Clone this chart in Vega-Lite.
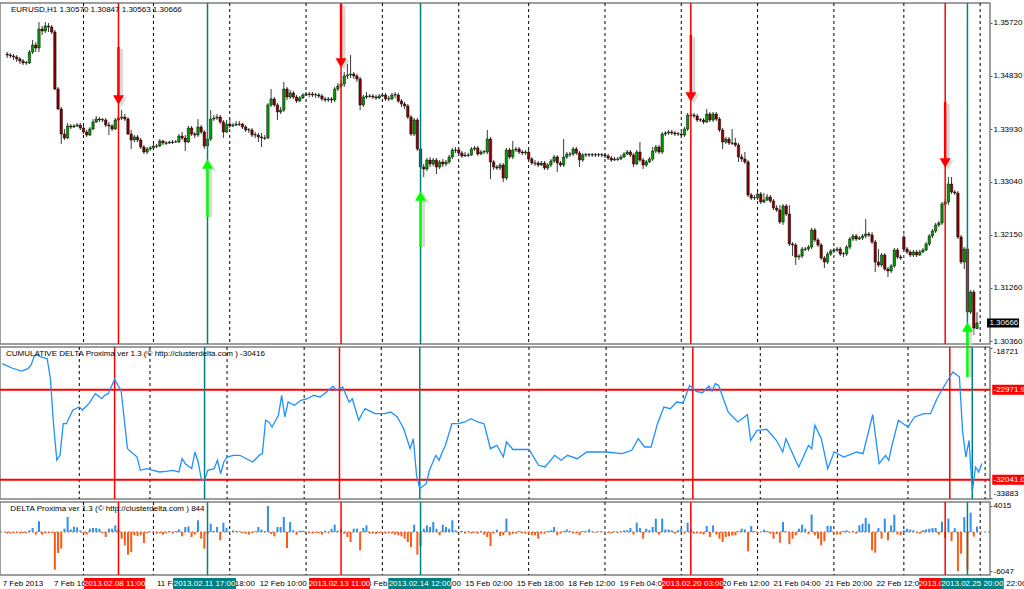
{
"$schema":"https://vega.github.io/schema/vega-lite/v6.json",
"padding":{"left":-2,"top":1,"right":0,"bottom":0},
"background":"white",
"spacing":3,
"bounds":"flush",
"config":{"font":"Liberation Sans","view":{"stroke":"#7f7f7f","strokeWidth":1.5},"text":{"font":"Liberation Sans","fontSize":8}},
"datasets":{
"days":[{"i":24},{"i":46},{"i":70},{"i":94},{"i":118},{"i":142},{"i":164},{"i":188},{"i":212},{"i":236},{"i":260},{"i":282},{"i":306}],
"events":[{"i":35,"k":"red","t":"2013.02.08 11:00"},{"i":63,"k":"teal","t":"2013.02.11 17:00"},{"i":105,"k":"red","t":"2013.02.13 11:00"},{"i":130,"k":"teal","t":"2013.02.14 12:00"},{"i":215,"k":"red","t":"2013.02.20 03:00"},{"i":295,"k":"red","t":"2013.02.25 13:00"},{"i":302,"k":"teal","t":"2013.02.25 20:00"}],
"arrows":[{"i":35,"a":1.35312,"b":1.34453,"hd":1.34420,"k":"down"},{"i":105,"a":1.36036,"b":1.35093,"hd":1.35043,"k":"down"},{"i":215,"a":1.35514,"b":1.34521,"hd":1.34470,"k":"down"},{"i":295,"a":1.34386,"b":1.33409,"hd":1.33359,"k":"down"},{"i":63,"a":1.33258,"b":1.32449,"hd":1.33342,"k":"up"},{"i":130,"a":1.32736,"b":1.31944,"hd":1.32803,"k":"up"},{"i":302,"a":1.30547,"b":1.29755,"hd":1.30597,"k":"up"}],
"levels":[{"v":-22971.9,"t":"-22971.9"},{"v":-32041.0,"t":"-32041.0"}],
"xlabels":[{"i":0,"t":"7 Feb 2013"},{"i":16,"t":"7 Feb 16:00"},{"i":48,"t":"11 Feb 02:00"},{"i":64,"t":"11 Feb 18:00"},{"i":80,"t":"12 Feb 10:00"},{"i":112,"t":"13 Feb 18:00"},{"i":128,"t":"14 Feb 10:00"},{"i":144,"t":"15 Feb 02:00"},{"i":160,"t":"15 Feb 18:00"},{"i":176,"t":"18 Feb 12:00"},{"i":192,"t":"19 Feb 04:00"},{"i":224,"t":"20 Feb 12:00"},{"i":240,"t":"21 Feb 04:00"},{"i":256,"t":"21 Feb 20:00"},{"i":272,"t":"22 Feb 12:00"},{"i":304,"t":"25 Feb 22:00"}],
"cd":[{"i":0,"v":-20352},{"i":3,"v":-20785},{"i":6,"v":-21088},{"i":8,"v":-20856},{"i":9,"v":-20483},{"i":10,"v":-19576},{"i":11,"v":-19475},{"i":12,"v":-19677},{"i":14,"v":-19848},{"i":15,"v":-21863},{"i":16,"v":-26529},{"i":17,"v":-30056},{"i":18,"v":-29552},{"i":19,"v":-26398},{"i":20,"v":-26398},{"i":22,"v":-25017},{"i":24,"v":-24715},{"i":25,"v":-25017},{"i":27,"v":-24383},{"i":29,"v":-23375},{"i":31,"v":-23879},{"i":32,"v":-23506},{"i":33,"v":-23375},{"i":35,"v":-21924},{"i":36,"v":-22528},{"i":37,"v":-23032},{"i":39,"v":-28917},{"i":42,"v":-29754},{"i":43,"v":-31094},{"i":45,"v":-30933},{"i":47,"v":-31094},{"i":49,"v":-31265},{"i":51,"v":-31195},{"i":53,"v":-31094},{"i":55,"v":-31265},{"i":56,"v":-29925},{"i":57,"v":-30429},{"i":59,"v":-30933},{"i":60,"v":-29250},{"i":61,"v":-30258},{"i":62,"v":-32001},{"i":63,"v":-32102},{"i":64,"v":-31094},{"i":66,"v":-30933},{"i":67,"v":-30086},{"i":68,"v":-31437},{"i":69,"v":-30258},{"i":70,"v":-29754},{"i":72,"v":-29582},{"i":74,"v":-29582},{"i":76,"v":-29925},{"i":78,"v":-30258},{"i":80,"v":-29582},{"i":81,"v":-29421},{"i":82,"v":-26056},{"i":83,"v":-26227},{"i":84,"v":-26731},{"i":86,"v":-25552},{"i":87,"v":-23536},{"i":88,"v":-25723},{"i":89,"v":-24211},{"i":91,"v":-24544},{"i":93,"v":-24040},{"i":95,"v":-23879},{"i":97,"v":-23536},{"i":99,"v":-23708},{"i":101,"v":-23204},{"i":103,"v":-22629},{"i":104,"v":-23032},{"i":106,"v":-22700},{"i":108,"v":-24211},{"i":109,"v":-23879},{"i":111,"v":-26056},{"i":112,"v":-25390},{"i":113,"v":-24887},{"i":116,"v":-25390},{"i":119,"v":-25390},{"i":121,"v":-25219},{"i":123,"v":-25723},{"i":125,"v":-26902},{"i":127,"v":-28917},{"i":128,"v":-27910},{"i":129,"v":-31598},{"i":130,"v":-32948},{"i":132,"v":-32444},{"i":133,"v":-31094},{"i":135,"v":-29582},{"i":136,"v":-30086},{"i":137,"v":-29250},{"i":138,"v":-28575},{"i":140,"v":-26398},{"i":142,"v":-26398},{"i":144,"v":-26227},{"i":146,"v":-25894},{"i":148,"v":-26227},{"i":150,"v":-26398},{"i":152,"v":-28917},{"i":154,"v":-28575},{"i":156,"v":-29754},{"i":157,"v":-28242},{"i":159,"v":-28998},{"i":164,"v":-28978},{"i":167,"v":-30590},{"i":169,"v":-30761},{"i":172,"v":-29582},{"i":174,"v":-30086},{"i":176,"v":-29582},{"i":179,"v":-29925},{"i":182,"v":-29250},{"i":188,"v":-29250},{"i":193,"v":-29421},{"i":196,"v":-29079},{"i":198,"v":-27910},{"i":200,"v":-28746},{"i":202,"v":-28746},{"i":204,"v":-26398},{"i":206,"v":-24715},{"i":208,"v":-24887},{"i":210,"v":-24211},{"i":212,"v":-24312},{"i":214,"v":-22528},{"i":216,"v":-23133},{"i":218,"v":-23274},{"i":220,"v":-22599},{"i":221,"v":-23133},{"i":222,"v":-22367},{"i":223,"v":-22528},{"i":226,"v":-25219},{"i":229,"v":-26227},{"i":232,"v":-25491},{"i":233,"v":-28071},{"i":235,"v":-27063},{"i":238,"v":-26962},{"i":241,"v":-28071},{"i":243,"v":-29250},{"i":244,"v":-27910},{"i":247,"v":-30086},{"i":248,"v":-30761},{"i":251,"v":-28575},{"i":252,"v":-28917},{"i":253,"v":-26559},{"i":255,"v":-27910},{"i":257,"v":-30933},{"i":259,"v":-29250},{"i":262,"v":-29754},{"i":266,"v":-29250},{"i":268,"v":-29421},{"i":271,"v":-25491},{"i":273,"v":-30429},{"i":275,"v":-29582},{"i":276,"v":-30086},{"i":277,"v":-28575},{"i":279,"v":-26056},{"i":282,"v":-26731},{"i":284,"v":-25723},{"i":287,"v":-25390},{"i":289,"v":-25390},{"i":291,"v":-23879},{"i":294,"v":-22196},{"i":295,"v":-21692},{"i":296,"v":-21188},{"i":298,"v":-21692},{"i":299,"v":-27234},{"i":300,"v":-29754},{"i":301,"v":-28071},{"i":302,"v":-33281},{"i":303,"v":-30761},{"i":304,"v":-31265},{"i":305,"v":-30416}],
"bars":[
{"i":0,"o":1.35194,"h":1.35228,"l":1.35127,"c":1.35177,"d":-250},
{"i":1,"o":1.35177,"h":1.35211,"l":1.35127,"c":1.35161,"d":-230},
{"i":2,"o":1.35161,"h":1.35194,"l":1.35093,"c":1.35144,"d":-200},
{"i":3,"o":1.35144,"h":1.35177,"l":1.35060,"c":1.35110,"d":-150},
{"i":4,"o":1.35110,"h":1.35144,"l":1.35026,"c":1.35076,"d":-220},
{"i":5,"o":1.35076,"h":1.35110,"l":1.35009,"c":1.35043,"d":-150},
{"i":6,"o":1.35043,"h":1.35076,"l":1.35009,"c":1.35050,"d":-200},
{"i":7,"o":1.35043,"h":1.35262,"l":1.35026,"c":1.35228,"d":260},
{"i":8,"o":1.35228,"h":1.35430,"l":1.35194,"c":1.35346,"d":620},
{"i":9,"o":1.35346,"h":1.35396,"l":1.35228,"c":1.35295,"d":-400},
{"i":10,"o":1.35295,"h":1.35733,"l":1.35228,"c":1.35615,"d":1650},
{"i":11,"o":1.35615,"h":1.35666,"l":1.35514,"c":1.35582,"d":-400},
{"i":12,"o":1.35582,"h":1.35733,"l":1.35548,"c":1.35666,"d":-200},
{"i":13,"o":1.35666,"h":1.35716,"l":1.35565,"c":1.35649,"d":-180},
{"i":14,"o":1.35649,"h":1.35683,"l":1.35531,"c":1.35565,"d":-150},
{"i":15,"o":1.35565,"h":1.35598,"l":1.34588,"c":1.34605,"d":-5820},
{"i":16,"o":1.34605,"h":1.34639,"l":1.34251,"c":1.34268,"d":-3240},
{"i":17,"o":1.34268,"h":1.34302,"l":1.33679,"c":1.33847,"d":-2570},
{"i":18,"o":1.33847,"h":1.33931,"l":1.33746,"c":1.33780,"d":515},
{"i":19,"o":1.33780,"h":1.34032,"l":1.33763,"c":1.33982,"d":2316},
{"i":20,"o":1.33982,"h":1.34015,"l":1.33931,"c":1.33965,"d":400},
{"i":21,"o":1.33965,"h":1.34015,"l":1.33948,"c":1.33982,"d":820},
{"i":22,"o":1.33982,"h":1.34032,"l":1.33965,"c":1.33998,"d":720},
{"i":23,"o":1.33998,"h":1.34032,"l":1.33914,"c":1.33948,"d":250},
{"i":24,"o":1.33948,"h":1.33982,"l":1.33847,"c":1.33881,"d":-250},
{"i":25,"o":1.33881,"h":1.33914,"l":1.33796,"c":1.33830,"d":-400},
{"i":26,"o":1.33830,"h":1.33965,"l":1.33813,"c":1.33931,"d":515},
{"i":27,"o":1.33931,"h":1.34099,"l":1.33914,"c":1.34049,"d":620},
{"i":28,"o":1.34049,"h":1.34150,"l":1.34032,"c":1.34099,"d":620},
{"i":29,"o":1.34099,"h":1.34133,"l":1.34049,"c":1.34083,"d":515},
{"i":30,"o":1.34083,"h":1.34116,"l":1.34049,"c":1.34090,"d":-200},
{"i":31,"o":1.34083,"h":1.34116,"l":1.33965,"c":1.33998,"d":-770},
{"i":32,"o":1.33998,"h":1.34049,"l":1.33830,"c":1.33982,"d":515},
{"i":33,"o":1.33982,"h":1.34015,"l":1.33897,"c":1.33931,"d":515},
{"i":34,"o":1.33931,"h":1.34116,"l":1.33914,"c":1.34083,"d":1030},
{"i":35,"o":1.34083,"h":1.34167,"l":1.34049,"c":1.34116,"d":400},
{"i":36,"o":1.34116,"h":1.34251,"l":1.34083,"c":1.34133,"d":-1030},
{"i":37,"o":1.34133,"h":1.34184,"l":1.34066,"c":1.34099,"d":-2060},
{"i":38,"o":1.34099,"h":1.34133,"l":1.33830,"c":1.33847,"d":-3500},
{"i":39,"o":1.33847,"h":1.33914,"l":1.33595,"c":1.33746,"d":-3090},
{"i":40,"o":1.33746,"h":1.33830,"l":1.33712,"c":1.33797,"d":-510},
{"i":41,"o":1.33797,"h":1.33830,"l":1.33712,"c":1.33746,"d":-620},
{"i":42,"o":1.33746,"h":1.33780,"l":1.33595,"c":1.33628,"d":-510},
{"i":43,"o":1.33628,"h":1.33662,"l":1.33510,"c":1.33544,"d":-1700},
{"i":44,"o":1.33544,"h":1.33628,"l":1.33510,"c":1.33595,"d":-150},
{"i":45,"o":1.33595,"h":1.33645,"l":1.33561,"c":1.33612,"d":100},
{"i":46,"o":1.33612,"h":1.33679,"l":1.33595,"c":1.33645,"d":80},
{"i":47,"o":1.33645,"h":1.33679,"l":1.33612,"c":1.33640,"d":-250},
{"i":48,"o":1.33645,"h":1.33763,"l":1.33628,"c":1.33729,"d":-200},
{"i":49,"o":1.33729,"h":1.33746,"l":1.33662,"c":1.33696,"d":-400},
{"i":50,"o":1.33696,"h":1.33729,"l":1.33662,"c":1.33690,"d":-200},
{"i":51,"o":1.33696,"h":1.33729,"l":1.33679,"c":1.33712,"d":150},
{"i":52,"o":1.33712,"h":1.33746,"l":1.33679,"c":1.33705,"d":-250},
{"i":53,"o":1.33712,"h":1.33746,"l":1.33696,"c":1.33715,"d":150},
{"i":54,"o":1.33712,"h":1.33847,"l":1.33696,"c":1.33813,"d":400},
{"i":55,"o":1.33813,"h":1.33881,"l":1.33746,"c":1.33780,"d":-670},
{"i":56,"o":1.33780,"h":1.33830,"l":1.33561,"c":1.33712,"d":770},
{"i":57,"o":1.33712,"h":1.33982,"l":1.33696,"c":1.33948,"d":870},
{"i":58,"o":1.33948,"h":1.33982,"l":1.33813,"c":1.33847,"d":-770},
{"i":59,"o":1.33847,"h":1.33881,"l":1.33780,"c":1.33830,"d":-400},
{"i":60,"o":1.33830,"h":1.34099,"l":1.33797,"c":1.33965,"d":1800},
{"i":61,"o":1.33965,"h":1.33998,"l":1.33847,"c":1.33881,"d":-1030},
{"i":62,"o":1.33881,"h":1.33914,"l":1.33595,"c":1.33645,"d":-2570},
{"i":63,"o":1.33645,"h":1.33797,"l":1.33595,"c":1.33763,"d":-300},
{"i":64,"o":1.33763,"h":1.34251,"l":1.33729,"c":1.34099,"d":1290},
{"i":65,"o":1.34099,"h":1.34167,"l":1.34066,"c":1.34116,"d":150},
{"i":66,"o":1.34116,"h":1.34184,"l":1.34083,"c":1.34133,"d":770},
{"i":67,"o":1.34133,"h":1.34167,"l":1.34015,"c":1.34049,"d":-1290},
{"i":68,"o":1.34049,"h":1.34083,"l":1.33780,"c":1.33881,"d":1440},
{"i":69,"o":1.33881,"h":1.34083,"l":1.33864,"c":1.34015,"d":620},
{"i":70,"o":1.34015,"h":1.34099,"l":1.33948,"c":1.33982,"d":60},
{"i":71,"o":1.33982,"h":1.34032,"l":1.33965,"c":1.33998,"d":250},
{"i":72,"o":1.33998,"h":1.34066,"l":1.33982,"c":1.34015,"d":150},
{"i":73,"o":1.34015,"h":1.34066,"l":1.33982,"c":1.34010,"d":100},
{"i":74,"o":1.34015,"h":1.34032,"l":1.33931,"c":1.33965,"d":-200},
{"i":75,"o":1.33965,"h":1.33998,"l":1.33881,"c":1.33914,"d":-250},
{"i":76,"o":1.33914,"h":1.33948,"l":1.33864,"c":1.33920,"d":-400},
{"i":77,"o":1.33914,"h":1.33948,"l":1.33797,"c":1.33830,"d":-200},
{"i":78,"o":1.33830,"h":1.33881,"l":1.33780,"c":1.33836,"d":100},
{"i":79,"o":1.33830,"h":1.33864,"l":1.33712,"c":1.33797,"d":770},
{"i":80,"o":1.33797,"h":1.33864,"l":1.33628,"c":1.33780,"d":360},
{"i":81,"o":1.33780,"h":1.33830,"l":1.33746,"c":1.33775,"d":150},
{"i":82,"o":1.33780,"h":1.34369,"l":1.33763,"c":1.34336,"d":4015},
{"i":83,"o":1.34336,"h":1.34605,"l":1.34302,"c":1.34437,"d":-300},
{"i":84,"o":1.34437,"h":1.34470,"l":1.34302,"c":1.34336,"d":-670},
{"i":85,"o":1.34336,"h":1.34369,"l":1.34083,"c":1.34218,"d":770},
{"i":86,"o":1.34218,"h":1.34302,"l":1.34184,"c":1.34251,"d":770},
{"i":87,"o":1.34251,"h":1.34723,"l":1.34218,"c":1.34605,"d":2316},
{"i":88,"o":1.34605,"h":1.34639,"l":1.34420,"c":1.34470,"d":-2470},
{"i":89,"o":1.34470,"h":1.34588,"l":1.34437,"c":1.34538,"d":1544},
{"i":90,"o":1.34538,"h":1.34571,"l":1.34437,"c":1.34470,"d":260},
{"i":91,"o":1.34470,"h":1.34504,"l":1.34369,"c":1.34403,"d":-410},
{"i":92,"o":1.34403,"h":1.34487,"l":1.34386,"c":1.34454,"d":200},
{"i":93,"o":1.34454,"h":1.34538,"l":1.34437,"c":1.34504,"d":200},
{"i":94,"o":1.34504,"h":1.34554,"l":1.34487,"c":1.34521,"d":60},
{"i":95,"o":1.34521,"h":1.34554,"l":1.34470,"c":1.34515,"d":-200},
{"i":96,"o":1.34521,"h":1.34554,"l":1.34470,"c":1.34504,"d":-250},
{"i":97,"o":1.34504,"h":1.34538,"l":1.34454,"c":1.34510,"d":-150},
{"i":98,"o":1.34504,"h":1.34538,"l":1.34454,"c":1.34487,"d":-200},
{"i":99,"o":1.34487,"h":1.34521,"l":1.34403,"c":1.34437,"d":-400},
{"i":100,"o":1.34437,"h":1.34470,"l":1.34386,"c":1.34420,"d":200},
{"i":101,"o":1.34420,"h":1.34470,"l":1.34386,"c":1.34437,"d":-150},
{"i":102,"o":1.34437,"h":1.34470,"l":1.34369,"c":1.34420,"d":510},
{"i":103,"o":1.34420,"h":1.34639,"l":1.34386,"c":1.34605,"d":1130},
{"i":104,"o":1.34605,"h":1.34706,"l":1.34571,"c":1.34656,"d":200},
{"i":105,"o":1.34656,"h":1.34740,"l":1.34622,"c":1.34689,"d":510},
{"i":106,"o":1.34689,"h":1.34891,"l":1.34639,"c":1.34824,"d":-250},
{"i":107,"o":1.34824,"h":1.35026,"l":1.34774,"c":1.34841,"d":-770},
{"i":108,"o":1.34841,"h":1.35177,"l":1.34790,"c":1.34858,"d":-1544},
{"i":109,"o":1.34858,"h":1.34891,"l":1.34774,"c":1.34824,"d":510},
{"i":110,"o":1.34824,"h":1.34858,"l":1.34723,"c":1.34774,"d":510},
{"i":111,"o":1.34774,"h":1.34807,"l":1.34251,"c":1.34336,"d":-2830},
{"i":112,"o":1.34336,"h":1.34504,"l":1.34302,"c":1.34470,"d":620},
{"i":113,"o":1.34470,"h":1.34554,"l":1.34437,"c":1.34487,"d":1030},
{"i":114,"o":1.34487,"h":1.34521,"l":1.34454,"c":1.34482,"d":-250},
{"i":115,"o":1.34487,"h":1.34521,"l":1.34437,"c":1.34470,"d":-250},
{"i":116,"o":1.34470,"h":1.34504,"l":1.34420,"c":1.34454,"d":-300},
{"i":117,"o":1.34454,"h":1.34521,"l":1.34437,"c":1.34487,"d":-200},
{"i":118,"o":1.34487,"h":1.34538,"l":1.34470,"c":1.34504,"d":-150},
{"i":119,"o":1.34504,"h":1.34538,"l":1.34403,"c":1.34437,"d":-250},
{"i":120,"o":1.34437,"h":1.34487,"l":1.34403,"c":1.34442,"d":-200},
{"i":121,"o":1.34437,"h":1.34538,"l":1.34420,"c":1.34504,"d":-250},
{"i":122,"o":1.34504,"h":1.34554,"l":1.34454,"c":1.34510,"d":-400},
{"i":123,"o":1.34504,"h":1.34538,"l":1.34369,"c":1.34403,"d":-510},
{"i":124,"o":1.34403,"h":1.34437,"l":1.34302,"c":1.34352,"d":-670},
{"i":125,"o":1.34352,"h":1.34386,"l":1.34268,"c":1.34319,"d":-1030},
{"i":126,"o":1.34319,"h":1.34352,"l":1.34099,"c":1.34133,"d":-1544},
{"i":127,"o":1.34133,"h":1.34167,"l":1.33813,"c":1.33847,"d":-2316},
{"i":128,"o":1.33847,"h":1.34116,"l":1.33813,"c":1.34083,"d":1130},
{"i":129,"o":1.34083,"h":1.34116,"l":1.33561,"c":1.33595,"d":-3500},
{"i":130,"o":1.33595,"h":1.33628,"l":1.33257,"c":1.33291,"d":-2160},
{"i":131,"o":1.33291,"h":1.33342,"l":1.33123,"c":1.33258,"d":510},
{"i":132,"o":1.33258,"h":1.33443,"l":1.33224,"c":1.33409,"d":1030},
{"i":133,"o":1.33409,"h":1.33460,"l":1.33291,"c":1.33342,"d":770},
{"i":134,"o":1.33342,"h":1.33443,"l":1.33308,"c":1.33409,"d":1544},
{"i":135,"o":1.33409,"h":1.33443,"l":1.33173,"c":1.33291,"d":510},
{"i":136,"o":1.33291,"h":1.33409,"l":1.33258,"c":1.33376,"d":-510},
{"i":137,"o":1.33376,"h":1.33426,"l":1.33291,"c":1.33342,"d":1130},
{"i":138,"o":1.33342,"h":1.33409,"l":1.33308,"c":1.33376,"d":770},
{"i":139,"o":1.33376,"h":1.33494,"l":1.33342,"c":1.33460,"d":510},
{"i":140,"o":1.33460,"h":1.33612,"l":1.33426,"c":1.33578,"d":1800},
{"i":141,"o":1.33578,"h":1.33628,"l":1.33527,"c":1.33572,"d":260},
{"i":142,"o":1.33578,"h":1.33612,"l":1.33477,"c":1.33527,"d":50},
{"i":143,"o":1.33527,"h":1.33561,"l":1.33443,"c":1.33477,"d":200},
{"i":144,"o":1.33477,"h":1.33544,"l":1.33460,"c":1.33494,"d":-250},
{"i":145,"o":1.33494,"h":1.33527,"l":1.33460,"c":1.33488,"d":150},
{"i":146,"o":1.33494,"h":1.33628,"l":1.33477,"c":1.33595,"d":-250},
{"i":147,"o":1.33595,"h":1.33645,"l":1.33561,"c":1.33612,"d":-150},
{"i":148,"o":1.33612,"h":1.33645,"l":1.33477,"c":1.33510,"d":-250},
{"i":149,"o":1.33510,"h":1.33578,"l":1.33494,"c":1.33544,"d":150},
{"i":150,"o":1.33544,"h":1.33578,"l":1.33510,"c":1.33550,"d":-400},
{"i":151,"o":1.33544,"h":1.33914,"l":1.33510,"c":1.33763,"d":-770},
{"i":152,"o":1.33763,"h":1.33797,"l":1.33089,"c":1.33376,"d":-2160},
{"i":153,"o":1.33376,"h":1.33409,"l":1.33241,"c":1.33291,"d":-250},
{"i":154,"o":1.33291,"h":1.33325,"l":1.33241,"c":1.33274,"d":360},
{"i":155,"o":1.33274,"h":1.33359,"l":1.33241,"c":1.33325,"d":-620},
{"i":156,"o":1.33325,"h":1.33359,"l":1.33039,"c":1.33106,"d":-510},
{"i":157,"o":1.33106,"h":1.33612,"l":1.33072,"c":1.33578,"d":2060},
{"i":158,"o":1.33578,"h":1.33612,"l":1.33426,"c":1.33460,"d":-510},
{"i":159,"o":1.33460,"h":1.33729,"l":1.33426,"c":1.33578,"d":-300},
{"i":160,"o":1.33578,"h":1.33628,"l":1.33544,"c":1.33595,"d":-250},
{"i":161,"o":1.33595,"h":1.33628,"l":1.33510,"c":1.33544,"d":150},
{"i":162,"o":1.33544,"h":1.33578,"l":1.33494,"c":1.33527,"d":-200},
{"i":163,"o":1.33527,"h":1.33578,"l":1.33494,"c":1.33544,"d":-250},
{"i":164,"o":1.33544,"h":1.33578,"l":1.33393,"c":1.33426,"d":-300},
{"i":165,"o":1.33426,"h":1.33460,"l":1.33325,"c":1.33359,"d":-510},
{"i":166,"o":1.33359,"h":1.33409,"l":1.33308,"c":1.33353,"d":-510},
{"i":167,"o":1.33359,"h":1.33393,"l":1.33291,"c":1.33325,"d":-1030},
{"i":168,"o":1.33325,"h":1.33393,"l":1.33308,"c":1.33359,"d":-250},
{"i":169,"o":1.33359,"h":1.33393,"l":1.33241,"c":1.33274,"d":-250},
{"i":170,"o":1.33274,"h":1.33359,"l":1.33241,"c":1.33325,"d":150},
{"i":171,"o":1.33325,"h":1.33426,"l":1.33291,"c":1.33393,"d":260},
{"i":172,"o":1.33393,"h":1.33494,"l":1.33359,"c":1.33460,"d":770},
{"i":173,"o":1.33460,"h":1.33494,"l":1.33207,"c":1.33359,"d":-510},
{"i":174,"o":1.33359,"h":1.33393,"l":1.33291,"c":1.33325,"d":-250},
{"i":175,"o":1.33325,"h":1.33763,"l":1.33291,"c":1.33460,"d":150},
{"i":176,"o":1.33460,"h":1.33544,"l":1.33426,"c":1.33510,"d":400},
{"i":177,"o":1.33510,"h":1.33544,"l":1.33460,"c":1.33504,"d":150},
{"i":178,"o":1.33510,"h":1.33628,"l":1.33477,"c":1.33595,"d":-250},
{"i":179,"o":1.33595,"h":1.33628,"l":1.33494,"c":1.33527,"d":-250},
{"i":180,"o":1.33527,"h":1.33561,"l":1.33291,"c":1.33409,"d":-510},
{"i":181,"o":1.33409,"h":1.33527,"l":1.33376,"c":1.33494,"d":150},
{"i":182,"o":1.33494,"h":1.33527,"l":1.33460,"c":1.33500,"d":150},
{"i":183,"o":1.33500,"h":1.33527,"l":1.33460,"c":1.33494,"d":400},
{"i":184,"o":1.33494,"h":1.33527,"l":1.33460,"c":1.33500,"d":100},
{"i":185,"o":1.33500,"h":1.33527,"l":1.33460,"c":1.33494,"d":-100},
{"i":186,"o":1.33494,"h":1.33527,"l":1.33460,"c":1.33500,"d":80},
{"i":187,"o":1.33500,"h":1.33527,"l":1.33460,"c":1.33494,"d":100},
{"i":188,"o":1.33494,"h":1.33527,"l":1.33443,"c":1.33477,"d":-100},
{"i":189,"o":1.33477,"h":1.33510,"l":1.33409,"c":1.33443,"d":-150},
{"i":190,"o":1.33443,"h":1.33477,"l":1.33376,"c":1.33409,"d":-200},
{"i":191,"o":1.33409,"h":1.33460,"l":1.33393,"c":1.33426,"d":100},
{"i":192,"o":1.33426,"h":1.33460,"l":1.33393,"c":1.33420,"d":-150},
{"i":193,"o":1.33426,"h":1.33494,"l":1.33409,"c":1.33460,"d":150},
{"i":194,"o":1.33460,"h":1.33544,"l":1.33443,"c":1.33510,"d":260},
{"i":195,"o":1.33510,"h":1.33578,"l":1.33494,"c":1.33544,"d":260},
{"i":196,"o":1.33544,"h":1.33578,"l":1.33460,"c":1.33494,"d":620},
{"i":197,"o":1.33494,"h":1.33527,"l":1.33291,"c":1.33342,"d":-400},
{"i":198,"o":1.33342,"h":1.33578,"l":1.33325,"c":1.33544,"d":1440},
{"i":199,"o":1.33544,"h":1.33712,"l":1.33376,"c":1.33409,"d":620},
{"i":200,"o":1.33409,"h":1.33443,"l":1.33257,"c":1.33325,"d":-1030},
{"i":201,"o":1.33325,"h":1.33409,"l":1.33291,"c":1.33376,"d":510},
{"i":202,"o":1.33376,"h":1.33460,"l":1.33359,"c":1.33426,"d":260},
{"i":203,"o":1.33426,"h":1.33628,"l":1.33393,"c":1.33561,"d":770},
{"i":204,"o":1.33561,"h":1.33662,"l":1.33527,"c":1.33628,"d":2060},
{"i":205,"o":1.33628,"h":1.33662,"l":1.33510,"c":1.33544,"d":-400},
{"i":206,"o":1.33544,"h":1.33881,"l":1.33510,"c":1.33847,"d":2060},
{"i":207,"o":1.33847,"h":1.33897,"l":1.33813,"c":1.33864,"d":400},
{"i":208,"o":1.33864,"h":1.33914,"l":1.33830,"c":1.33881,"d":400},
{"i":209,"o":1.33881,"h":1.33914,"l":1.33830,"c":1.33864,"d":260},
{"i":210,"o":1.33864,"h":1.33897,"l":1.33813,"c":1.33847,"d":-250},
{"i":211,"o":1.33847,"h":1.33881,"l":1.33813,"c":1.33853,"d":260},
{"i":212,"o":1.33847,"h":1.33881,"l":1.33797,"c":1.33830,"d":620},
{"i":213,"o":1.33830,"h":1.33965,"l":1.33797,"c":1.33931,"d":-250},
{"i":214,"o":1.33931,"h":1.34201,"l":1.33897,"c":1.34167,"d":1440},
{"i":215,"o":1.34167,"h":1.34201,"l":1.34133,"c":1.34162,"d":500},
{"i":216,"o":1.34167,"h":1.34201,"l":1.34116,"c":1.34150,"d":-250},
{"i":217,"o":1.34150,"h":1.34184,"l":1.34049,"c":1.34083,"d":-250},
{"i":218,"o":1.34083,"h":1.34116,"l":1.34049,"c":1.34088,"d":-250},
{"i":219,"o":1.34083,"h":1.34116,"l":1.34015,"c":1.34049,"d":-400},
{"i":220,"o":1.34049,"h":1.34268,"l":1.34032,"c":1.34184,"d":930},
{"i":221,"o":1.34184,"h":1.34218,"l":1.34049,"c":1.34083,"d":-770},
{"i":222,"o":1.34083,"h":1.34218,"l":1.34049,"c":1.34184,"d":1030},
{"i":223,"o":1.34184,"h":1.34218,"l":1.34066,"c":1.34099,"d":-400},
{"i":224,"o":1.34099,"h":1.34133,"l":1.33881,"c":1.33914,"d":-1030},
{"i":225,"o":1.33914,"h":1.33948,"l":1.33595,"c":1.33712,"d":-1540},
{"i":226,"o":1.33712,"h":1.33797,"l":1.33679,"c":1.33763,"d":-770},
{"i":227,"o":1.33763,"h":1.33797,"l":1.33662,"c":1.33696,"d":-670},
{"i":228,"o":1.33696,"h":1.33931,"l":1.33662,"c":1.33690,"d":-510},
{"i":229,"o":1.33696,"h":1.33780,"l":1.33628,"c":1.33662,"d":-510},
{"i":230,"o":1.33662,"h":1.33696,"l":1.33376,"c":1.33460,"d":150},
{"i":231,"o":1.33460,"h":1.33510,"l":1.33376,"c":1.33426,"d":510},
{"i":232,"o":1.33426,"h":1.33544,"l":1.33342,"c":1.33376,"d":400},
{"i":233,"o":1.33376,"h":1.33409,"l":1.32786,"c":1.32820,"d":-2980},
{"i":234,"o":1.32820,"h":1.32853,"l":1.32736,"c":1.32769,"d":930},
{"i":235,"o":1.32769,"h":1.32820,"l":1.32736,"c":1.32775,"d":150},
{"i":236,"o":1.32769,"h":1.32870,"l":1.32736,"c":1.32837,"d":-250},
{"i":237,"o":1.32837,"h":1.32870,"l":1.32668,"c":1.32702,"d":50},
{"i":238,"o":1.32702,"h":1.32853,"l":1.32685,"c":1.32736,"d":360},
{"i":239,"o":1.32736,"h":1.32837,"l":1.32719,"c":1.32786,"d":150},
{"i":240,"o":1.32786,"h":1.32820,"l":1.32685,"c":1.32719,"d":-250},
{"i":241,"o":1.32719,"h":1.32752,"l":1.32567,"c":1.32601,"d":-1030},
{"i":242,"o":1.32601,"h":1.32651,"l":1.32534,"c":1.32567,"d":-330},
{"i":243,"o":1.32567,"h":1.32651,"l":1.32332,"c":1.32365,"d":-1650},
{"i":244,"o":1.32365,"h":1.32668,"l":1.32315,"c":1.32635,"d":1544},
{"i":245,"o":1.32635,"h":1.32668,"l":1.32466,"c":1.32500,"d":100},
{"i":246,"o":1.32500,"h":1.32651,"l":1.31961,"c":1.31995,"d":-1900},
{"i":247,"o":1.31995,"h":1.32028,"l":1.31793,"c":1.31978,"d":-1030},
{"i":248,"o":1.31978,"h":1.32012,"l":1.31641,"c":1.31776,"d":-510},
{"i":249,"o":1.31776,"h":1.31827,"l":1.31726,"c":1.31793,"d":510},
{"i":250,"o":1.31793,"h":1.31944,"l":1.31759,"c":1.31911,"d":1130},
{"i":251,"o":1.31911,"h":1.31944,"l":1.31877,"c":1.31905,"d":510},
{"i":252,"o":1.31911,"h":1.31978,"l":1.31877,"c":1.31944,"d":-330},
{"i":253,"o":1.31944,"h":1.32264,"l":1.31911,"c":1.32231,"d":2680},
{"i":254,"o":1.32231,"h":1.32264,"l":1.32028,"c":1.32062,"d":-510},
{"i":255,"o":1.32062,"h":1.32096,"l":1.31944,"c":1.31978,"d":-1030},
{"i":256,"o":1.31978,"h":1.32012,"l":1.31726,"c":1.31759,"d":-2060},
{"i":257,"o":1.31759,"h":1.31793,"l":1.31591,"c":1.31692,"d":-1440},
{"i":258,"o":1.31692,"h":1.31860,"l":1.31658,"c":1.31827,"d":930},
{"i":259,"o":1.31827,"h":1.31911,"l":1.31793,"c":1.31877,"d":930},
{"i":260,"o":1.31877,"h":1.31928,"l":1.31843,"c":1.31894,"d":-250},
{"i":261,"o":1.31894,"h":1.31944,"l":1.31860,"c":1.31911,"d":-400},
{"i":262,"o":1.31911,"h":1.31944,"l":1.31793,"c":1.31827,"d":-400},
{"i":263,"o":1.31827,"h":1.31860,"l":1.31776,"c":1.31833,"d":150},
{"i":264,"o":1.31827,"h":1.31978,"l":1.31793,"c":1.31944,"d":260},
{"i":265,"o":1.31944,"h":1.32113,"l":1.31911,"c":1.32079,"d":-100},
{"i":266,"o":1.32079,"h":1.32163,"l":1.32045,"c":1.32130,"d":150},
{"i":267,"o":1.32130,"h":1.32163,"l":1.32045,"c":1.32079,"d":-250},
{"i":268,"o":1.32079,"h":1.32130,"l":1.32062,"c":1.32096,"d":1030},
{"i":269,"o":1.32096,"h":1.32163,"l":1.32062,"c":1.32130,"d":1290},
{"i":270,"o":1.32130,"h":1.32416,"l":1.32096,"c":1.32163,"d":2160},
{"i":271,"o":1.32163,"h":1.32197,"l":1.32113,"c":1.32146,"d":1290},
{"i":272,"o":1.32146,"h":1.32197,"l":1.31995,"c":1.32028,"d":-2830},
{"i":273,"o":1.32028,"h":1.32062,"l":1.31523,"c":1.31692,"d":-3190},
{"i":274,"o":1.31692,"h":1.31911,"l":1.31608,"c":1.31641,"d":620},
{"i":275,"o":1.31641,"h":1.31843,"l":1.31608,"c":1.31810,"d":-1030},
{"i":276,"o":1.31810,"h":1.31843,"l":1.31540,"c":1.31574,"d":2060},
{"i":277,"o":1.31574,"h":1.31608,"l":1.31439,"c":1.31540,"d":-1290},
{"i":278,"o":1.31540,"h":1.31658,"l":1.31507,"c":1.31624,"d":1030},
{"i":279,"o":1.31624,"h":1.31928,"l":1.31591,"c":1.31894,"d":2680},
{"i":280,"o":1.31894,"h":1.31928,"l":1.31742,"c":1.31776,"d":-400},
{"i":281,"o":1.31776,"h":1.31810,"l":1.31726,"c":1.31759,"d":-510},
{"i":282,"o":1.32113,"h":1.32146,"l":1.31877,"c":1.31911,"d":300},
{"i":283,"o":1.31911,"h":1.31944,"l":1.31827,"c":1.31860,"d":510},
{"i":284,"o":1.31860,"h":1.31894,"l":1.31776,"c":1.31810,"d":400},
{"i":285,"o":1.31810,"h":1.31894,"l":1.31776,"c":1.31860,"d":260},
{"i":286,"o":1.31860,"h":1.31894,"l":1.31776,"c":1.31810,"d":-150},
{"i":287,"o":1.31810,"h":1.31894,"l":1.31793,"c":1.31860,"d":-250},
{"i":288,"o":1.31860,"h":1.31928,"l":1.31843,"c":1.31894,"d":260},
{"i":289,"o":1.31894,"h":1.32028,"l":1.31877,"c":1.31995,"d":400},
{"i":290,"o":1.31995,"h":1.32163,"l":1.31961,"c":1.32130,"d":510},
{"i":291,"o":1.32130,"h":1.32247,"l":1.32096,"c":1.32214,"d":620},
{"i":292,"o":1.32214,"h":1.32349,"l":1.32180,"c":1.32315,"d":620},
{"i":293,"o":1.32315,"h":1.32382,"l":1.32281,"c":1.32349,"d":-400},
{"i":294,"o":1.32349,"h":1.32702,"l":1.32315,"c":1.32668,"d":1600},
{"i":295,"o":1.32668,"h":1.32752,"l":1.32635,"c":1.32702,"d":-900},
{"i":296,"o":1.32702,"h":1.33123,"l":1.32651,"c":1.33005,"d":2060},
{"i":297,"o":1.33005,"h":1.33123,"l":1.32837,"c":1.32870,"d":-1400},
{"i":298,"o":1.32870,"h":1.32904,"l":1.32820,"c":1.32853,"d":600},
{"i":299,"o":1.32853,"h":1.32887,"l":1.32079,"c":1.32113,"d":-6047},
{"i":300,"o":1.32113,"h":1.32146,"l":1.31658,"c":1.31692,"d":-3350},
{"i":301,"o":1.31692,"h":1.31944,"l":1.31574,"c":1.31911,"d":2300},
{"i":302,"o":1.31911,"h":1.31944,"l":1.30816,"c":1.30850,"d":-5900},
{"i":303,"o":1.30850,"h":1.31220,"l":1.30816,"c":1.31186,"d":3000},
{"i":304,"o":1.31186,"h":1.31220,"l":1.30462,"c":1.30580,"d":-700},
{"i":305,"o":1.30570,"h":1.30847,"l":1.30563,"c":1.30666,"d":844}
]},
"vconcat":[
{"width":990,"height":341,
"layer":[
{"data":{"name":"days"},"mark":{"type":"rule","color":"#000","strokeWidth":1,"strokeDash":[3,3]},
 "encoding":{"x":{"field":"i","type":"quantitative","scale":{"domain":[-0.685,307.52],"nice":false,"zero":false},"axis":null}}},
{"data":{"name":"bars"},"mark":{"type":"rule","color":"#3a3a3a","strokeWidth":1},
 "encoding":{"x":{"field":"i","type":"quantitative"},
  "y":{"field":"l","type":"quantitative","scale":{"domain":[1.30311,1.36053],"nice":false,"zero":false},
   "axis":{"orient":"right","values":[1.3036,1.3081,1.3126,1.317,1.3215,1.3259,1.3304,1.3349,1.3393,1.3438,1.3483,1.3527,1.3572],"format":".5f","title":null,"grid":false,"domain":false,"tickSize":2,"tickColor":"#555","labelPadding":1,"labelFontSize":8,"labelColor":"#000","labelFont":"Liberation Sans"}},
  "y2":{"field":"h"}}},
{"data":{"name":"bars"},"mark":{"type":"bar","width":2.4,"stroke":"#000","strokeWidth":0.5},
 "encoding":{"x":{"field":"i","type":"quantitative"},"y":{"field":"o","type":"quantitative"},"y2":{"field":"c"},
  "fill":{"condition":{"test":"datum.c >= datum.o","value":"#00a000"},"value":"#8b0000"}}},
{"data":{"name":"events"},"mark":{"type":"rule","strokeWidth":1.5},
 "encoding":{"x":{"field":"i","type":"quantitative"},"color":{"field":"k","type":"nominal","scale":{"domain":["red","teal"],"range":["#ff0000","#008080"]},"legend":null}}},
{"data":{"name":"arrows"},"mark":{"type":"rule","strokeWidth":3,"color":"#cfcfcf","opacity":0.8,"xOffset":3,"yOffset":2},
 "encoding":{"x":{"field":"i","type":"quantitative"},"y":{"field":"a","type":"quantitative"},"y2":{"field":"b"}}},
{"data":{"name":"arrows"},"mark":{"type":"point","filled":true,"size":121,"color":"#cfcfcf","opacity":0.7,"xOffset":3,"yOffset":2},
 "encoding":{"x":{"field":"i","type":"quantitative"},"y":{"field":"hd","type":"quantitative"},
  "shape":{"field":"k","type":"nominal","scale":{"domain":["down","up"],"range":["triangle-down","triangle-up"]},"legend":null}}},
{"data":{"name":"arrows"},"mark":{"type":"rule","strokeWidth":2.5},
 "encoding":{"x":{"field":"i","type":"quantitative"},"y":{"field":"a","type":"quantitative"},"y2":{"field":"b"},
  "stroke":{"field":"k","type":"nominal","scale":{"domain":["down","up"],"range":["#ff0000","#00ff00"]},"legend":null}}},
{"data":{"name":"arrows"},"mark":{"type":"point","filled":true,"size":121,"opacity":1},
 "encoding":{"x":{"field":"i","type":"quantitative"},"y":{"field":"hd","type":"quantitative"},
  "shape":{"field":"k","type":"nominal","scale":{"domain":["down","up"],"range":["triangle-down","triangle-up"]},"legend":null},
  "fill":{"field":"k","type":"nominal","scale":{"domain":["down","up"],"range":["#ff0000","#00ff00"]},"legend":null}}},
{"data":{"values":[{"t":"EURUSD,H1  1.30570 1.30847 1.30563 1.30666"}]},"mark":{"type":"text","align":"left","baseline":"middle","fontSize":8,"color":"#000"},
 "encoding":{"x":{"datum":1.2,"type":"quantitative"},"y":{"datum":1.3593,"type":"quantitative"},"text":{"field":"t"}}},
{"data":{"values":[{"v":1.30666,"t":"1.30666"}]},"mark":{"type":"rect","width":32,"height":9,"color":"#000"},
 "encoding":{"x":{"datum":313.2,"type":"quantitative"},"y":{"field":"v","type":"quantitative"}}},
{"data":{"values":[{"v":1.30666,"t":"1.30666"}]},"mark":{"type":"text","align":"left","baseline":"middle","fontSize":8,"color":"#fff"},
 "encoding":{"x":{"datum":308.9,"type":"quantitative"},"y":{"field":"v","type":"quantitative"},"text":{"field":"t"}}}
]},
{"width":990,"height":152,
"layer":[
{"data":{"name":"days"},"mark":{"type":"rule","color":"#000","strokeWidth":1,"strokeDash":[3,3]},
 "encoding":{"x":{"field":"i","type":"quantitative","scale":{"domain":[-0.685,307.52],"nice":false,"zero":false},"axis":null}}},
{"data":{"name":"levels"},"mark":{"type":"rule","color":"#ff0000","strokeWidth":2},
 "encoding":{"y":{"field":"v","type":"quantitative","scale":{"domain":[-33986,-18669],"nice":false,"zero":false},
  "axis":{"orient":"right","values":[-33883,-18721],"labelExpr":"'' + datum.value","labelFlush":3,"title":null,"grid":false,"domain":false,"tickSize":2,"tickColor":"#555","labelPadding":1,"labelFontSize":8,"labelColor":"#000","labelFont":"Liberation Sans"}}}},
{"data":{"name":"events"},"mark":{"type":"rule","strokeWidth":1.5},
 "encoding":{"x":{"field":"i","type":"quantitative"},"color":{"field":"k","type":"nominal","scale":{"domain":["red","teal"],"range":["#ff0000","#008080"]},"legend":null}}},
{"data":{"name":"cd"},"mark":{"type":"line","color":"#1e90ff","strokeWidth":1.3},
 "encoding":{"x":{"field":"i","type":"quantitative"},"y":{"field":"v","type":"quantitative"}}},
{"data":{"values":[{"t":"CUMULATIVE DELTA Proxima ver 1.3 (© http://clusterdelta.com ) -30416"}]},"mark":{"type":"text","align":"left","baseline":"middle","fontSize":8,"color":"#000"},
 "encoding":{"x":{"datum":1.2,"type":"quantitative"},"y":{"datum":-19405,"type":"quantitative"},"text":{"field":"t"}}},
{"data":{"name":"levels"},"mark":{"type":"rect","width":32,"height":10,"color":"#ff0000"},
 "encoding":{"x":{"datum":313.2,"type":"quantitative"},"y":{"field":"v","type":"quantitative"}}},
{"data":{"name":"levels"},"mark":{"type":"text","align":"left","baseline":"middle","fontSize":8,"color":"#fff"},
 "encoding":{"x":{"datum":308.6,"type":"quantitative"},"y":{"field":"v","type":"quantitative"},"text":{"field":"t"}}}
]},
{"width":990,"height":73,
"layer":[
{"data":{"name":"days"},"mark":{"type":"rule","color":"#000","strokeWidth":1,"strokeDash":[3,3]},
 "encoding":{"x":{"field":"i","type":"quantitative","scale":{"domain":[-0.685,307.52],"nice":false,"zero":false},"axis":null}}},
{"data":{"values":[{"z":0}]},"mark":{"type":"rule","color":"#808080","strokeWidth":1,"strokeDash":[2,2]},
 "encoding":{"y":{"field":"z","type":"quantitative","scale":{"domain":[-6639,4632],"nice":false,"zero":false},
  "axis":{"orient":"right","values":[-6047,0,4015],"labelExpr":"datum.value == 0 ? '0.00' : '' + datum.value","title":null,"grid":false,"domain":false,"tickSize":2,"tickColor":"#555","labelPadding":1,"labelFontSize":8,"labelColor":"#000","labelFont":"Liberation Sans"}}}},
{"data":{"name":"bars"},"mark":{"type":"bar","width":2},
 "encoding":{"x":{"field":"i","type":"quantitative"},"y":{"field":"d","type":"quantitative"},"y2":{"datum":0},
  "color":{"condition":{"test":"datum.d > 0","value":"#2f8ff0"},"value":"#ff5a14"}}},
{"data":{"name":"events"},"mark":{"type":"rule","strokeWidth":1.5},
 "encoding":{"x":{"field":"i","type":"quantitative"},"color":{"field":"k","type":"nominal","scale":{"domain":["red","teal"],"range":["#ff0000","#008080"]},"legend":null}}},
{"data":{"values":[{"t":"DELTA Proxima ver 1.3 (© http://clusterdelta.com ) 844"}]},"mark":{"type":"text","align":"left","baseline":"middle","fontSize":8,"color":"#000"},
 "encoding":{"x":{"datum":1.0,"type":"quantitative"},"y":{"datum":3505,"type":"quantitative"},"text":{"field":"t"}}}
]},
{"width":990,"height":11,"view":{"stroke":null},
"layer":[
{"data":{"name":"xlabels"},"mark":{"type":"text","align":"left","baseline":"middle","fontSize":8,"color":"#000","dx":0.5},
 "encoding":{"x":{"field":"i","type":"quantitative","scale":{"domain":[-0.685,307.52],"nice":false,"zero":false},"axis":null},"text":{"field":"t"}}},
{"data":{"name":"events"},"transform":[{"filter":"datum.k == 'red'"}],"mark":{"type":"rect","width":61,"color":"#ff0000"},
 "encoding":{"x":{"field":"i","type":"quantitative"}}},
{"data":{"name":"events"},"transform":[{"filter":"datum.k == 'red'"}],"mark":{"type":"text","align":"center","baseline":"middle","fontSize":8,"color":"#fff"},
 "encoding":{"x":{"field":"i","type":"quantitative"},"text":{"field":"t"}}},
{"data":{"name":"events"},"transform":[{"filter":"datum.k == 'teal'"}],"mark":{"type":"rect","width":63,"color":"#008080"},
 "encoding":{"x":{"field":"i","type":"quantitative"}}},
{"data":{"name":"events"},"transform":[{"filter":"datum.k == 'teal'"}],"mark":{"type":"text","align":"center","baseline":"middle","fontSize":8,"color":"#fff"},
 "encoding":{"x":{"field":"i","type":"quantitative"},"text":{"field":"t"}}}
]}
]
}
